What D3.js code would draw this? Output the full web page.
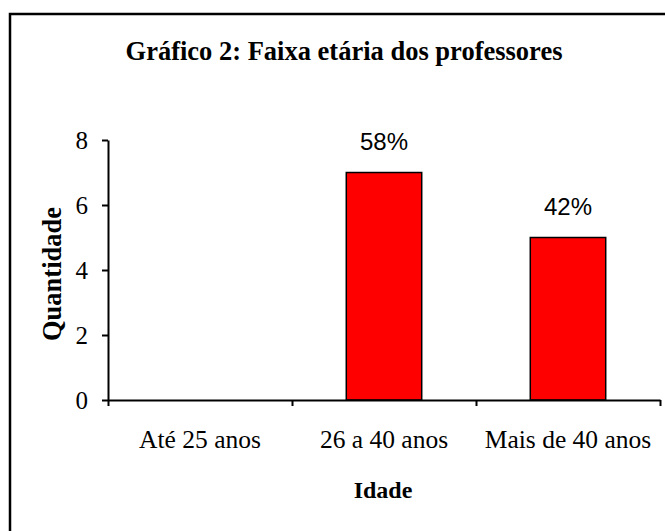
<!DOCTYPE html>
<html>
<head>
<meta charset="utf-8">
<script src="https://cdn.jsdelivr.net/npm/d3@7"></script>
<style>
  body { margin: 0; background: #fff; }
  svg { display: block; }
</style>
</head>
<body>
<svg id="chart"></svg>
<script>
// Data
const categories = ["Até 25 anos", "26 a 40 anos", "Mais de 40 anos"];
const counts = [0, 7, 5];
const pctLabels = ["", "58%", "42%"];
const yTicks = [0, 2, 4, 6, 8];

const width = 665, height = 531;
const plot = {left: 108, right: 660, top: 140, bottom: 400};

const svg = d3.select("#chart")
    .attr("width", width)
    .attr("height", height);

// outer chart frame (right/bottom edges fall outside the picture)
svg.append("rect")
    .attr("x", 10).attr("y", 14)
    .attr("width", 720).attr("height", 600)
    .attr("fill", "#fff")
    .attr("stroke", "#000")
    .attr("stroke-width", 2.5);

svg.append("text")
    .attr("x", 344).attr("y", 60)
    .attr("text-anchor", "middle")
    .attr("font-family", "Liberation Serif, Times New Roman, serif")
    .attr("font-weight", "bold")
    .attr("font-size", 26.5)
    .text("Gráfico 2: Faixa etária dos professores");

const x = d3.scaleBand()
    .domain(categories)
    .range([plot.left, plot.right])
    .padding(0);

const y = d3.scaleLinear()
    .domain([0, 8])
    .range([plot.bottom, plot.top]);

// boundary ticks on the category axis
const xEdges = d3.scaleLinear()
    .domain([0, categories.length])
    .range([plot.left, plot.right]);

const serif = "Liberation Serif, Times New Roman, serif";

const gy = svg.append("g")
    .attr("transform", `translate(${plot.left},0)`)
    .call(d3.axisLeft(y).tickValues(yTicks).tickSize(6).tickSizeOuter(0).tickPadding(14));
gy.selectAll("text")
    .attr("font-family", serif)
    .attr("font-size", 25)
    .attr("fill", "#000");

// bars
const barW = x.bandwidth() * 0.41;
svg.append("g")
    .selectAll("rect")
    .data(counts)
    .join("rect")
        .attr("x", (d, i) => x(categories[i]) + (x.bandwidth() - barW) / 2)
        .attr("y", d => y(d))
        .attr("width", barW)
        .attr("height", d => y(0) - y(d))
        .attr("fill", d => d > 0 ? "#ff0000" : "none")
        .attr("stroke", d => d > 0 ? "#000" : "none")
        .attr("stroke-width", 1.5);

svg.append("g")
    .selectAll("text")
    .data(counts)
    .join("text")
        .attr("x", (d, i) => x(categories[i]) + x.bandwidth() / 2)
        .attr("y", d => y(d) - 23)
        .attr("text-anchor", "middle")
        .attr("font-family", "Liberation Sans, Arial, sans-serif")
        .attr("font-size", 24)
        .text((d, i) => pctLabels[i]);

const gx = svg.append("g")
    .attr("transform", `translate(0,${plot.bottom})`)
    .call(d3.axisBottom(xEdges).ticks(categories.length).tickFormat("").tickSize(6).tickSizeOuter(0));

[gx, gy].forEach(g => {
    g.select(".domain").attr("stroke", "#000").attr("stroke-width", 2);
    g.selectAll(".tick line").attr("stroke", "#000").attr("stroke-width", 2);
});

svg.append("g")
    .selectAll("text")
    .data(categories)
    .join("text")
        .attr("x", d => x(d) + x.bandwidth() / 2)
        .attr("y", 448)
        .attr("text-anchor", "middle")
        .attr("font-family", serif)
        .attr("font-size", 25.5)
        .text(d => d);

svg.append("text")
    .attr("x", 383).attr("y", 498)
    .attr("text-anchor", "middle")
    .attr("font-family", serif)
    .attr("font-weight", "bold")
    .attr("font-size", 24)
    .text("Idade");

svg.append("text")
    .attr("transform", "translate(61,274) rotate(-90)")
    .attr("text-anchor", "middle")
    .attr("font-family", serif)
    .attr("font-weight", "bold")
    .attr("font-size", 26.5)
    .text("Quantidade");
</script>
</body>
</html>
